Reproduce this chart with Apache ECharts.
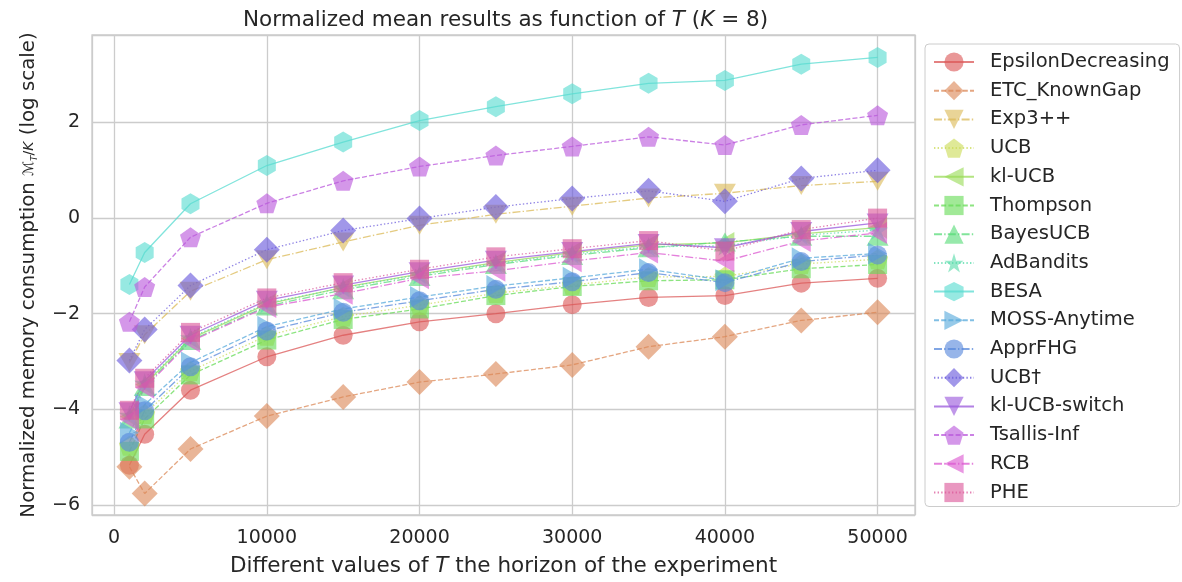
<!DOCTYPE html>
<html><head><meta charset="utf-8">
<script src="https://cdn.jsdelivr.net/npm/echarts@6/dist/echarts.min.js"></script>
<style>html,body{margin:0;padding:0;background:#fff}#c{width:1182px;height:582px}</style>
</head><body><div id="c"></div>
<script>
// ---------- data ----------
const horizons = [1000, 2000, 5000, 10000, 15000, 20000, 25000, 30000, 35000, 40000, 45000, 50000];
const xTickValues = [0, 10000, 20000, 30000, 40000, 50000];
const yTickValues = [-6, -4, -2, 0, 2];
const algorithmNames = ['EpsilonDecreasing', 'ETC_KnownGap', 'Exp3++', 'UCB', 'kl-UCB', 'Thompson', 'BayesUCB', 'AdBandits', 'BESA', 'MOSS-Anytime', 'ApprFHG', 'UCB\u2020', 'kl-UCB-switch', 'Tsallis-Inf', 'RCB', 'PHE'];

const epsilonDecreasing = [-5.17, -4.52, -3.60, -2.90, -2.45, -2.17, -2.00, -1.81, -1.66, -1.62, -1.36, -1.26];
const etcKnownGap      = [-5.20, -5.76, -4.83, -4.14, -3.74, -3.43, -3.26, -3.07, -2.69, -2.48, -2.14, -1.97];
const exp3pp           = [-3.02, -2.44, -1.53, -0.87, -0.50, -0.15, 0.08, 0.25, 0.42, 0.52, 0.68, 0.77];
const ucb              = [-4.76, -4.10, -3.20, -2.46, -2.06, -1.82, -1.57, -1.40, -1.23, -1.22, -0.96, -0.86];
const klUcb            = [-4.15, -3.48, -2.52, -1.80, -1.45, -1.17, -0.93, -0.72, -0.56, -0.52, -0.33, -0.20];
const thompson         = [-4.88, -4.20, -3.28, -2.55, -2.12, -1.90, -1.62, -1.43, -1.31, -1.29, -1.06, -0.97];
const bayesUcb         = [-4.20, -3.52, -2.56, -1.84, -1.50, -1.22, -0.97, -0.78, -0.62, -0.50, -0.38, -0.38];
const adBandits        = [-4.12, -3.45, -2.50, -1.78, -1.46, -1.18, -0.95, -0.75, -0.60, -0.58, -0.36, -0.25];
const besa             = [-1.39, -0.72, 0.30, 1.10, 1.59, 2.04, 2.33, 2.60, 2.82, 2.88, 3.22, 3.36];
const mossAnytime      = [-4.49, -3.90, -3.02, -2.27, -1.90, -1.65, -1.42, -1.25, -1.07, -1.30, -0.84, -0.74];
const apprFHG          = [-4.69, -4.03, -3.11, -2.36, -1.97, -1.73, -1.49, -1.33, -1.14, -1.35, -0.91, -0.77];
const ucbDagger        = [-2.98, -2.33, -1.41, -0.66, -0.26, -0.01, 0.23, 0.41, 0.57, 0.35, 0.83, 1.00];
const klUcbSwitch      = [-4.05, -3.40, -2.45, -1.72, -1.40, -1.12, -0.88, -0.70, -0.53, -0.62, -0.28, -0.10];
const tsallisInf       = [-2.17, -1.44, -0.40, 0.31, 0.78, 1.08, 1.31, 1.50, 1.70, 1.53, 1.95, 2.15];
const rcb              = [-4.22, -3.55, -2.58, -1.86, -1.58, -1.26, -1.10, -0.90, -0.72, -0.90, -0.48, -0.31];
const phe              = [-4.02, -3.35, -2.39, -1.67, -1.35, -1.07, -0.81, -0.64, -0.47, -0.69, -0.24, 0.00];

const allValues = [epsilonDecreasing, etcKnownGap, exp3pp, ucb, klUcb, thompson, bayesUcb, adBandits, besa, mossAnytime, apprFHG, ucbDagger, klUcbSwitch, tsallisInf, rcb, phe];

// ---------- styles ----------
const colors = ['#db5757', '#db8857', '#dbba57', '#cbdb57', '#99db57', '#67db57', '#57db78', '#57dbaa', '#57dbd0', '#57aadb', '#5788db', '#6757db', '#9957db', '#b957db', '#db57d0', '#db5799'];
const PENT = 'path://M0,-1 L0.951,-0.309 L0.588,0.809 L-0.588,0.809 L-0.951,-0.309 Z';
const HEX = 'path://M0,-1 L0.866,-0.5 L0.866,0.5 L0,1 L-0.866,0.5 L-0.866,-0.5 Z';
const STAR = (function(){let p=[];for(let k=0;k<10;k++){const r=k%2?0.382:1;const a=(-90+k*36)*Math.PI/180;p.push((r*Math.cos(a)).toFixed(3)+','+(r*Math.sin(a)).toFixed(3));}return 'path://M'+p.join(' L')+' Z';})();
const markerDefs = [
  {symbol:'circle', size:19, rot:0},
  {symbol:'diamond', size:[26,26], rot:0},
  {symbol:'triangle', size:[22,19], rot:180},
  {symbol:PENT, size:[21,20], rot:0},
  {symbol:'triangle', size:[22,19], rot:90},
  {symbol:'rect', size:[19,19], rot:0},
  {symbol:'triangle', size:[22,19], rot:0},
  {symbol:STAR, size:[21,20], rot:0},
  {symbol:HEX, size:[18,21], rot:0},
  {symbol:'triangle', size:[22,19], rot:-90},
  {symbol:'circle', size:19, rot:0},
  {symbol:'diamond', size:[26,26], rot:0},
  {symbol:'triangle', size:[22,19], rot:180},
  {symbol:PENT, size:[21,20], rot:0},
  {symbol:'triangle', size:[22,19], rot:90},
  {symbol:'rect', size:[19,19], rot:0}
];
const dashes = ['solid', [5,2.2], [8,2.2,1.4,2.2], [1.4,2.2]];
const FONT = 'DejaVu Sans';
const TXT = '#262626';

const series = algorithmNames.map((name, i) => ({
  type: 'line',
  name: name,
  data: horizons.map((x, j) => [x, allValues[i][j]]),
  symbol: markerDefs[i].symbol,
  symbolSize: markerDefs[i].size,
  symbolRotate: markerDefs[i].rot,
  showAllSymbol: true,
  itemStyle: {color: colors[i], opacity: 0.62},
  lineStyle: {color: colors[i], width: 1.3, type: dashes[i % 4], opacity: 0.75},
  emphasis: {disabled: true},
  animation: false
}));

const chart = echarts.init(document.getElementById('c'), null, {renderer: 'canvas'});
const minusFmt = v => (v < 0 ? '\u2212' : '') + Math.abs(v);
chart.setOption({
  backgroundColor: '#ffffff',
  animation: false,
  title: {
    text: 'Normalized mean results as function of {i|T} ({i|K} = 8)',
    left: 238, top: 4,
    textStyle: {fontSize: 21.5, fontWeight: 'normal', color: TXT, fontFamily: FONT,
      rich: {i: {fontStyle: 'italic', fontSize: 21.5, color: TXT, fontFamily: FONT}}}
  },
  grid: {left: 92, top: 35, width: 823, height: 485, show: true, borderColor: '#cccccc', borderWidth: 1.3, backgroundColor: '#ffffff'},
  legend: {
    data: algorithmNames,
    orient: 'vertical', left: 925, top: 44,
    itemWidth: 40, itemHeight: 24, itemGap: 8.7,
    padding: [8, 10, 4, 8],
    borderColor: '#cccccc', borderWidth: 1, borderRadius: 4, backgroundColor: '#ffffff',
    textStyle: {fontSize: 19.5, color: TXT, fontFamily: FONT, padding: [0, 0, 0, 11]}
  },
  xAxis: {
    type: 'value', min: -1450, max: 52450,
    name: 'Different values of {i|T} the horizon of the experiment',
    nameLocation: 'middle', nameGap: 40,
    nameTextStyle: {fontSize: 21.5, color: TXT, fontFamily: FONT,
      rich: {i: {fontStyle: 'italic', fontSize: 21.5, color: TXT, fontFamily: FONT}}},
    axisLine: {show: false}, axisTick: {show: false},
    splitLine: {show: true, lineStyle: {color: '#cccccc', width: 1.3}},
    axisLabel: {fontSize: 19, color: TXT, fontFamily: FONT, margin: 14, showMinLabel: false, showMaxLabel: false,
      formatter: v => xTickValues.indexOf(v) >= 0 ? String(v) : ''}
  },
  yAxis: {
    type: 'value', min: -6.21, max: 3.83,
    name: 'Normalized memory consumption {m|\u2133}{s|T}{m|/}{k|K} (log scale)',
    nameLocation: 'middle', nameGap: 53,
    nameTextStyle: {fontSize: 19.8, color: TXT, fontFamily: FONT,
      rich: {
        m: {fontSize: 14, color: TXT, fontFamily: FONT},
        s: {fontSize: 9, color: TXT, fontFamily: FONT, fontStyle: 'italic', verticalAlign: 'bottom'},
        k: {fontSize: 14, color: TXT, fontFamily: FONT, fontStyle: 'italic'}
      }},
    axisLine: {show: false}, axisTick: {show: false},
    splitLine: {show: true, lineStyle: {color: '#cccccc', width: 1.3}},
    axisLabel: {fontSize: 19, color: TXT, fontFamily: FONT, margin: 12, showMinLabel: false, showMaxLabel: false,
      formatter: v => yTickValues.indexOf(v) >= 0 ? minusFmt(v) : ''}
  },
  series: series
});
</script>
</body></html>
